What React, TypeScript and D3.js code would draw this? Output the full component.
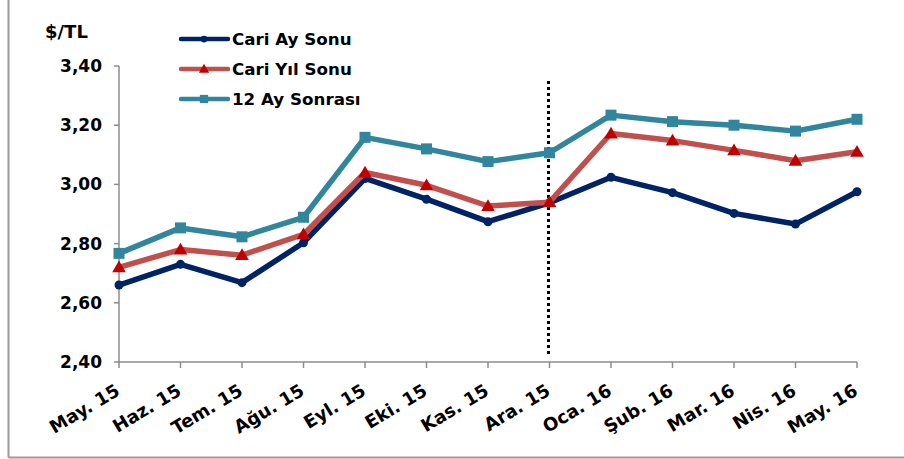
import React from "react";
import * as d3 from "d3";

const months = [
  "May. 15", "Haz. 15", "Tem. 15", "Ağu. 15", "Eyl. 15", "Eki. 15", "Kas. 15",
  "Ara. 15", "Oca. 16", "Şub. 16", "Mar. 16", "Nis. 16", "May. 16",
];

const cariAySonu = [2.66, 2.73, 2.668, 2.803, 3.02, 2.95, 2.874, 2.938, 3.024, 2.972, 2.902, 2.866, 2.975];
const cariYilSonu = [2.72, 2.78, 2.761, 2.831, 3.04, 2.997, 2.927, 2.94, 3.172, 3.148, 3.115, 3.08, 3.11];
const onikiAySonrasi = [2.767, 2.853, 2.823, 2.889, 3.159, 3.12, 3.077, 3.107, 3.234, 3.212, 3.2, 3.18, 3.22];

const yTicks = [2.4, 2.6, 2.8, 3.0, 3.2, 3.4];
const dividerMonth = "Ara. 15";

const series = [
  { name: "Cari Ay Sonu", values: cariAySonu, line: "#002366", marker: "#002366", shape: "circle" },
  { name: "Cari Yıl Sonu", values: cariYilSonu, line: "#C0504D", marker: "#C00000", shape: "triangle" },
  { name: "12 Ay Sonrası", values: onikiAySonrasi, line: "#31859C", marker: "#31859C", shape: "square" },
];

const W = 904;
const H = 459;
const left = 119;
const right = 857;
const top = 66;
const bottom = 362;
const font = "'DejaVu Sans', Verdana, sans-serif";

const x = d3.scalePoint<string>().domain(months).range([left, right]);
const y = d3.scaleLinear().domain([2.4, 3.4]).range([bottom, top]);

// k scales the marker: 1 on the plot, smaller in the legend
const Marker = ({ shape, cx, cy, color, k = 1 }: { shape: string; cx: number; cy: number; color: string; k?: number }) => {
  if (shape === "circle") return <circle cx={cx} cy={cy} r={4.5 * k} fill={color} />;
  if (shape === "square") {
    const s = 11 * k;
    return <rect x={cx - s / 2} y={cy - s / 2} width={s} height={s} fill={color} />;
  }
  const tri = d3.symbol(d3.symbolTriangle, 80 * k * k)() as string;
  return <path d={tri} transform={`translate(${cx},${cy + k})`} fill={color} />;
};

export default function App() {
  const line = d3.line<number>().x((_, i) => x(months[i]) as number).y((d) => y(d));
  const dx = x(dividerMonth) as number;

  return (
    <svg width={W} height={H} style={{ position: "absolute", left: 0, top: 0 }} fontFamily={font}>
      <rect width={W} height={H} fill="#fff" />
      {/* frame */}
      <line x1={8.5} x2={8.5} y1={0} y2={457.5} stroke="#999" strokeWidth={2} />
      <line x1={8.5} x2={W} y1={457.5} y2={457.5} stroke="#999" strokeWidth={2} />

      {/* y axis */}
      <line x1={left} x2={left} y1={top} y2={bottom} stroke="#8c8c8c" strokeWidth={1.5} />
      {yTicks.map((t) => (
        <g key={t}>
          <line x1={left - 5} x2={left} y1={y(t)} y2={y(t)} stroke="#8c8c8c" strokeWidth={1.5} />
          <text x={102} y={y(t) + 6} textAnchor="end" fontSize={17} fontWeight="bold" fill="#000">
            {d3.format(".2f")(t).replace(".", ",")}
          </text>
        </g>
      ))}
      <text x={45} y={38} fontSize={18} fontWeight="bold">$/TL</text>

      {/* x axis */}
      <line x1={left} x2={right} y1={bottom} y2={bottom} stroke="#8c8c8c" strokeWidth={1.5} />
      {months.map((m) => (
        <g key={m}>
          <line x1={x(m)} x2={x(m)} y1={bottom} y2={bottom + 6} stroke="#8c8c8c" strokeWidth={1.5} />
          <text
            transform={`translate(${(x(m) as number) + 2},${bottom + 32}) rotate(-31)`}
            textAnchor="end"
            fontSize={18}
            fontWeight="bold"
          >
            {m}
          </text>
        </g>
      ))}

      {/* divider */}
      <line x1={dx - 1} x2={dx - 1} y1={81} y2={357} stroke="#000" strokeWidth={3} strokeDasharray="3 3" />

      {/* series */}
      {series.map((s) => (
        <g key={s.name}>
          <path d={line(s.values) as string} fill="none" stroke={s.line} strokeWidth={5.5} strokeLinejoin="round" />
          {s.values.map((v, i) => (
            <Marker key={i} shape={s.shape} cx={x(months[i]) as number} cy={y(v)} color={s.marker} />
          ))}
        </g>
      ))}

      {/* legend */}
      {series.map((s, i) => {
        const ly = 39 + i * 30;
        return (
          <g key={s.name}>
            <line x1={181} x2={228} y1={ly} y2={ly} stroke={s.line} strokeWidth={4.5} strokeLinecap="round" />
            <Marker shape={s.shape} cx={204} cy={ly} color={s.marker} k={0.75} />
            <text x={232} y={ly + 6} fontSize={16.7} fontWeight="bold">{s.name}</text>
          </g>
        );
      })}
    </svg>
  );
}
